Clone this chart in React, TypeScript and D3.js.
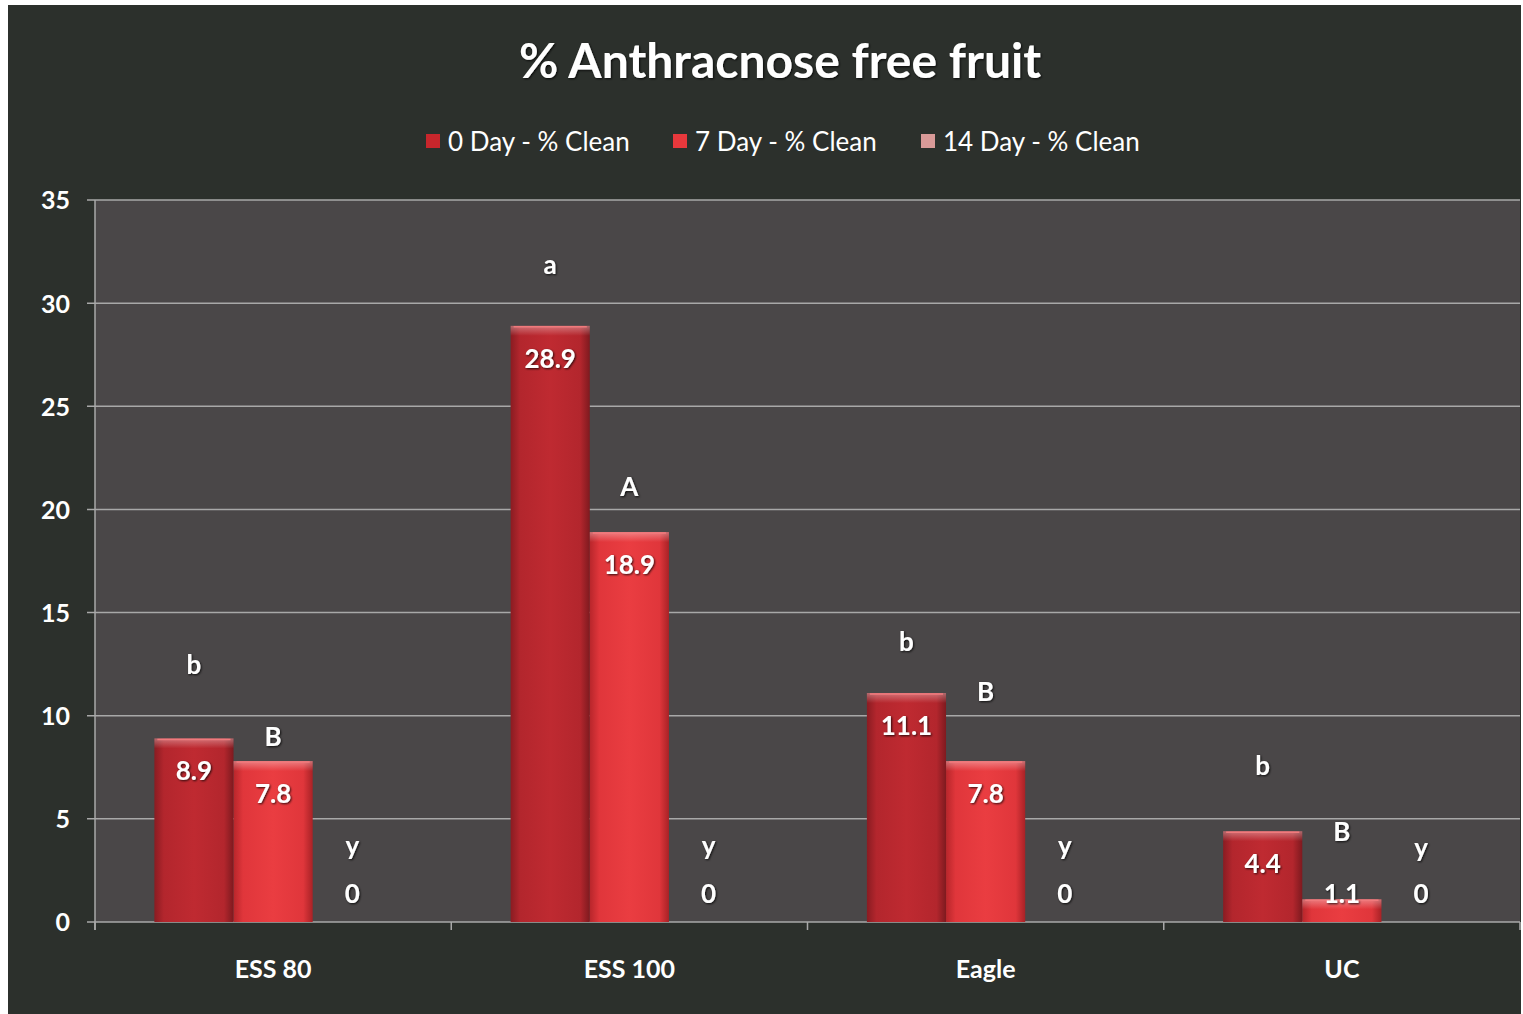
import React from "react";
import * as d3 from "d3";

const categories = ["ESS 80", "ESS 100", "Eagle", "UC"];
const seriesNames = ["0 Day - % Clean", "7 Day - % Clean", "14 Day - % Clean"];
const day0 = [8.9, 28.9, 11.1, 4.4];
const day7 = [7.8, 18.9, 7.8, 1.1];
const day14 = [0, 0, 0, 0];
const letters0 = ["b", "a", "b", "b"];
const letters7 = ["B", "A", "B", "B"];
const letters14 = ["y", "y", "y", "y"];
// heights (in chart units) where the significance letters sit
const letterLevels0 = [12.5, 31.9, 13.6, 7.6];
const letterLevels7 = [9.0, 21.1, 11.2, 4.4];
const letterLevels14 = [3.7, 3.7, 3.7, 3.6];
const yTicks = [0, 5, 10, 15, 20, 25, 30, 35];

const W = 1523;
const H = 1014;
const FONT = "Lato, 'Open Sans', sans-serif";

const seriesValues = [day0, day7, day14];
const seriesLetters = [letters0, letters7, letters14];
const seriesLevels = [letterLevels0, letterLevels7, letterLevels14];
const fills = ["url(#bar0)", "url(#bar1)", "url(#bar2)"];
const legendFills = ["#c8262c", "#e8383c", "#d99a98"];

const App: React.FC = () => {
  const margin = { top: 200, right: 3, bottom: 92, left: 95 };
  const x = d3
    .scaleBand<string>()
    .domain(categories)
    .range([margin.left, W - margin.right])
    .padding(0);
  const xs = d3
    .scaleBand<string>()
    .domain(seriesNames)
    .range([0, x.bandwidth()])
    .paddingInner(0)
    .paddingOuter(0.75);
  const y = d3.scaleLinear().domain([0, 35]).range([H - margin.bottom, margin.top]);
  const y0 = y(0);

  const legendX = [426, 673, 921];
  const dy = 3; // nudge for middle-baseline text

  return (
    <svg
      width={W}
      height={H}
      style={{ display: "block", position: "fixed", left: 0, top: 0, fontFamily: FONT }}
    >
      <defs>
        <linearGradient id="bar0" x1="0" x2="1" y1="0" y2="0">
          <stop offset="0%" stopColor="#8a1c22" />
          <stop offset="12%" stopColor="#b3262d" />
          <stop offset="50%" stopColor="#bf2a31" />
          <stop offset="88%" stopColor="#b3262d" />
          <stop offset="100%" stopColor="#7e1a1f" />
        </linearGradient>
        <linearGradient id="bar1" x1="0" x2="1" y1="0" y2="0">
          <stop offset="0%" stopColor="#b8262b" />
          <stop offset="12%" stopColor="#e0363b" />
          <stop offset="50%" stopColor="#ea3d41" />
          <stop offset="88%" stopColor="#e0363b" />
          <stop offset="100%" stopColor="#a82226" />
        </linearGradient>
        <linearGradient id="bar2" x1="0" x2="1" y1="0" y2="0">
          <stop offset="0%" stopColor="#c98a88" />
          <stop offset="50%" stopColor="#e0a4a2" />
          <stop offset="100%" stopColor="#c98a88" />
        </linearGradient>
        <linearGradient id="bevel" x1="0" x2="0" y1="0" y2="1">
          <stop offset="0%" stopColor="#ffffff" stopOpacity={0.35} />
          <stop offset="100%" stopColor="#ffffff" stopOpacity={0} />
        </linearGradient>
        <filter id="shadow" x="-20%" y="-20%" width="140%" height="140%">
          <feDropShadow dx="1" dy="1" stdDeviation="0.8" floodColor="#000" floodOpacity={0.8} />
        </filter>
      </defs>

      <rect x={0} y={0} width={W} height={H} fill="#ffffff" />
      <rect x={8} y={5} width={W - 10} height={H - 5} fill="#2c302c" />

      {/* plot area */}
      <rect
        x={margin.left}
        y={margin.top}
        width={W - margin.right - margin.left}
        height={y0 - margin.top}
        fill="#4a4748"
      />

      {yTicks.map((t) => (
        <g key={t}>
          <line
            x1={margin.left - 8}
            x2={W - margin.right}
            y1={y(t)}
            y2={y(t)}
            stroke="#a8a8a8"
            strokeWidth={1.5}
          />
          <text
            x={70}
            y={y(t) + dy}
            textAnchor="end"
            dominantBaseline="middle"
            fill="#ffffff"
            fontSize={25}
            fontWeight="bold"
          >
            {t}
          </text>
        </g>
      ))}
      <line
        x1={margin.left}
        x2={margin.left}
        y1={margin.top}
        y2={y0 + 8}
        stroke="#a8a8a8"
        strokeWidth={1.5}
      />
      {[...categories.map((c) => x(c) as number), W - margin.right].map((px, i) => (
        <line key={i} x1={px} x2={px} y1={y0} y2={y0 + 8} stroke="#a8a8a8" strokeWidth={1.5} />
      ))}

      {/* bars */}
      {categories.map((c, ci) =>
        seriesNames.map((s, si) => {
          const v = seriesValues[si][ci];
          const bx = (x(c) as number) + (xs(s) as number);
          const bw = xs.bandwidth();
          const top = y(v);
          const h = y0 - top;
          const cx = bx + bw / 2;
          const labelY = Math.min(top + 32, y0 - 29);
          return (
            <g key={c + s}>
              {h > 0 && (
                <>
                  <rect x={bx} y={top} width={bw} height={h} fill={fills[si]} />
                  <rect x={bx} y={top} width={bw} height={Math.min(10, h)} fill="url(#bevel)" />
                  <line x1={bx + 3} x2={bx + bw - 3} y1={top + 1} y2={top + 1} stroke="#f07a7c" strokeWidth={1.5} />
                </>
              )}
              <text
                x={cx}
                y={labelY + dy}
                textAnchor="middle"
                dominantBaseline="middle"
                fill="#ffffff"
                fontSize={26}
                fontWeight="bold"
                filter="url(#shadow)"
              >
                {v}
              </text>
              <text
                x={cx}
                y={y(seriesLevels[si][ci]) + dy}
                textAnchor="middle"
                dominantBaseline="middle"
                fill="#ffffff"
                fontSize={26}
                fontWeight="bold"
                filter="url(#shadow)"
              >
                {seriesLetters[si][ci]}
              </text>
            </g>
          );
        })
      )}

      {/* category labels */}
      {categories.map((c) => (
        <text
          key={c}
          x={(x(c) as number) + x.bandwidth() / 2}
          y={969 + dy}
          textAnchor="middle"
          dominantBaseline="middle"
          fill="#ffffff"
          fontSize={25}
          fontWeight="bold"
        >
          {c}
        </text>
      ))}

      {/* title */}
      <text
        x={780}
        y={62 + dy + 1}
        textAnchor="middle"
        dominantBaseline="middle"
        fill="#ffffff"
        fontSize={48}
        fontWeight="bold"
        filter="url(#shadow)"
      >
        % Anthracnose free fruit
      </text>

      {/* legend */}
      {seriesNames.map((s, i) => (
        <g key={s}>
          <rect x={legendX[i]} y={134} width={14} height={14} fill={legendFills[i]} />
          <text
            x={legendX[i] + 22}
            y={141 + dy}
            dominantBaseline="middle"
            fill="#ffffff"
            fontSize={26}
          >
            {s}
          </text>
        </g>
      ))}
    </svg>
  );
};

export default App;
